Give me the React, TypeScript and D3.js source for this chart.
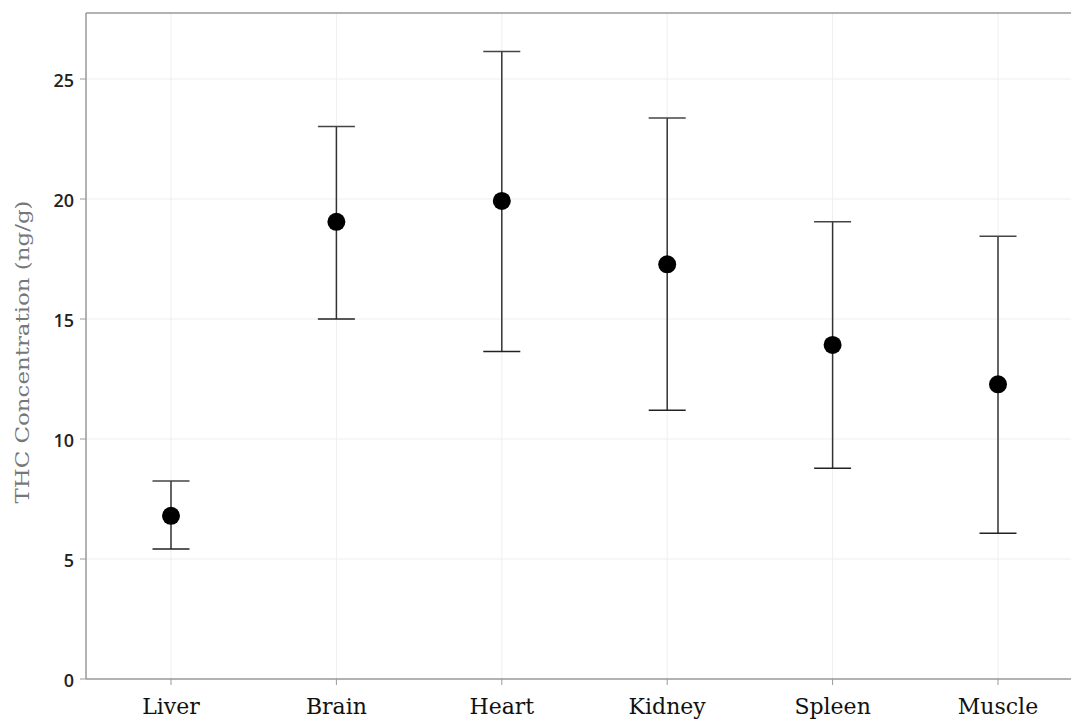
import * as d3 from 'd3';
import React, {useEffect, useRef} from 'react';

// THC concentration by tissue, mean with error range
const tissues = ['Liver', 'Brain', 'Heart', 'Kidney', 'Spleen', 'Muscle'];
const means = [6.8, 19.05, 19.92, 17.28, 13.92, 12.28];
const upper = [8.25, 23.02, 26.15, 23.38, 19.05, 18.45];
const lower = [5.42, 15.0, 13.65, 11.2, 8.78, 6.07];
const yTicks = [0, 5, 10, 15, 20, 25];

const W = 1071, H = 721;
const margin = {l: 86, r: 0, t: 13, b: 42};

export default function App() {
    const ref = useRef<SVGSVGElement | null>(null);

    useEffect(() => {
        const svg = d3.select(ref.current);
        svg.selectAll('*').remove();

        const chartW = W - margin.l - margin.r;
        const chartH = H - margin.t - margin.b;

        const x = d3.scalePoint<string>().domain(tissues).range([171 - margin.l, 998 - margin.l]);
        const y = d3.scaleLinear().domain([0, 27.75]).range([chartH, 0]);

        const g = svg.append('g').attr('transform', `translate(${margin.l},${margin.t})`);

        // grid
        g.append('g').selectAll('line.hg').data(yTicks.slice(1)).enter().append('line')
            .attr('x1', 0).attr('x2', chartW)
            .attr('y1', d => y(d)).attr('y2', d => y(d))
            .attr('stroke', '#efefef').attr('stroke-width', 1);
        g.append('g').selectAll('line.vg').data(tissues).enter().append('line')
            .attr('x1', d => x(d)!).attr('x2', d => x(d)!)
            .attr('y1', 0).attr('y2', chartH)
            .attr('stroke', '#efefef').attr('stroke-width', 1);

        // frame: left, bottom, top
        g.append('line').attr('x1', 0).attr('x2', 0).attr('y1', 0).attr('y2', chartH)
            .attr('stroke', '#999').attr('stroke-width', 1.5);
        g.append('line').attr('x1', 0).attr('x2', chartW).attr('y1', chartH).attr('y2', chartH)
            .attr('stroke', '#999').attr('stroke-width', 1.5);
        g.append('line').attr('x1', 0).attr('x2', chartW).attr('y1', 0).attr('y2', 0)
            .attr('stroke', '#999').attr('stroke-width', 1.5);

        // y ticks
        const yt = g.append('g').selectAll('g').data(yTicks).enter().append('g')
            .attr('transform', d => `translate(0,${y(d)})`);
        yt.append('line').attr('x1', -6).attr('x2', 0).attr('stroke', '#999').attr('stroke-width', 1);
        yt.append('text').text(d => d).attr('x', -12).attr('dy', '0.42em')
            .attr('text-anchor', 'end')
            .style('font-family', '"Open Sans", sans-serif').style('font-size', '18px')
            .style('font-weight', 600).attr('fill', '#222');

        // x ticks
        const xt = g.append('g').selectAll('g').data(tissues).enter().append('g')
            .attr('transform', d => `translate(${x(d)},${chartH})`);
        xt.append('line').attr('y1', 0).attr('y2', 6).attr('stroke', '#999').attr('stroke-width', 1);
        xt.append('text').text(d => d).attr('y', 35).attr('text-anchor', 'middle')
            .style('font-family', '"DejaVu Serif", serif').style('font-size', '22px')
            .attr('fill', '#111');

        // y title
        g.append('text').text('THC Concentration (ng/g)')
            .attr('transform', `translate(${29 - margin.l},${339}) rotate(-90)`)
            .attr('text-anchor', 'middle')
            .attr('textLength', 303).attr('lengthAdjust', 'spacingAndGlyphs')
            .style('font-family', '"DejaVu Serif", serif').style('font-size', '19px')
            .attr('fill', '#777');

        // error bars
        const bars = g.append('g').selectAll('g').data(tissues).enter().append('g')
            .attr('transform', d => `translate(${x(d)},0)`);
        bars.append('line').attr('y1', (d, i) => y(upper[i])).attr('y2', (d, i) => y(lower[i]))
            .attr('stroke', '#333').attr('stroke-width', 1.5);
        bars.append('line').attr('x1', -18.5).attr('x2', 18.5)
            .attr('y1', (d, i) => y(upper[i])).attr('y2', (d, i) => y(upper[i]))
            .attr('stroke', '#444').attr('stroke-width', 1.5);
        bars.append('line').attr('x1', -18.5).attr('x2', 18.5)
            .attr('y1', (d, i) => y(lower[i])).attr('y2', (d, i) => y(lower[i]))
            .attr('stroke', '#222').attr('stroke-width', 1.5);
        bars.append('circle').attr('cy', (d, i) => y(means[i])).attr('r', 9).attr('fill', '#000');
    }, []);

    return (
        <svg ref={ref} width={W} height={H}
             style={{position: 'absolute', left: 0, top: 0, background: '#fff'}} />
    );
}
